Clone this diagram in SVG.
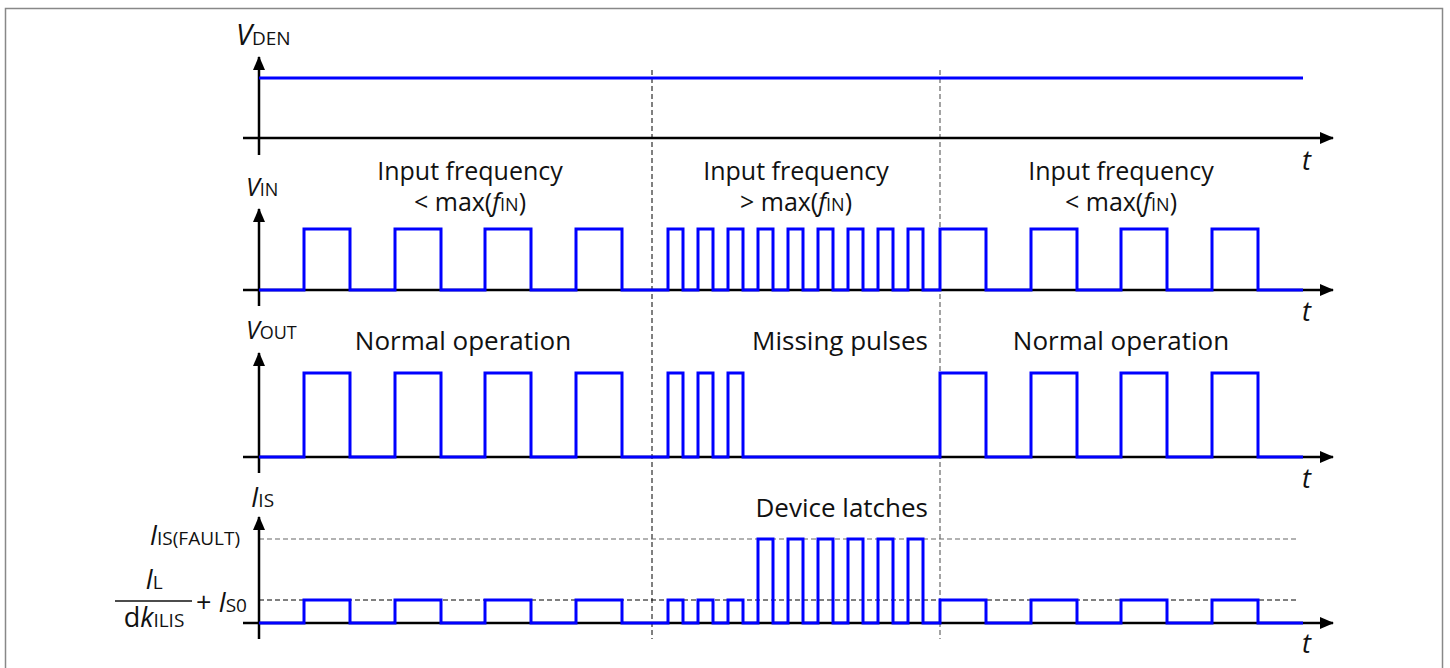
<svg xmlns="http://www.w3.org/2000/svg" width="1450" height="668" viewBox="0 0 1450 668">
<style>
text{font-family:"Open Sans","Noto Sans","DejaVu Sans",sans-serif;fill:#111;}
.lbl{font-size:26px;}
.lbl2{font-size:25px;}
.it{font-style:italic;}
.axis{stroke:#000;stroke-width:2.5;fill:none;}
.sig{stroke:#0000ff;stroke-width:3;fill:none;stroke-linejoin:miter;}
.dash{stroke:#000;stroke-width:1;stroke-dasharray:5,3;fill:none;}
.dashg{stroke:#666;stroke-width:1.2;stroke-dasharray:5,3;fill:none;}
</style>
<defs>
<marker id="arr" viewBox="0 0 14 12" refX="13" refY="6" markerWidth="14" markerHeight="12" markerUnits="userSpaceOnUse" orient="auto">
<path d="M0,0 L14,6 L0,12 Z" fill="#000"/>
</marker>
</defs>
<rect x="5.5" y="8.5" width="1437" height="670" fill="#fff" stroke="#888" stroke-width="1.5"/>

<g id="guides">
<line class="dash" x1="652" y1="70" x2="652" y2="639"/>
<line class="dashg" x1="940" y1="70" x2="940" y2="639"/>
<line class="dashg" x1="259" y1="539" x2="1296" y2="539"/>
<line class="dash" x1="259" y1="600" x2="1296" y2="600"/>
</g>

<g id="axes">
<line class="axis" x1="243" y1="138" x2="1333" y2="138" marker-end="url(#arr)"/>
<line class="axis" x1="259" y1="155" x2="259" y2="57" marker-end="url(#arr)"/>
<line class="axis" x1="243" y1="290" x2="1333" y2="290" marker-end="url(#arr)"/>
<line class="axis" x1="259" y1="306" x2="259" y2="209" marker-end="url(#arr)"/>
<line class="axis" x1="243" y1="457" x2="1333" y2="457" marker-end="url(#arr)"/>
<line class="axis" x1="259" y1="473" x2="259" y2="353" marker-end="url(#arr)"/>
<line class="axis" x1="243" y1="623" x2="1333" y2="623" marker-end="url(#arr)"/>
<line class="axis" x1="259" y1="639" x2="259" y2="517" marker-end="url(#arr)"/>
</g>

<g id="signals">
<path id="vden" class="sig" d="M259,78 H1303"/>
<path id="vin" class="sig" d="M259,290 H304 V229 H350 V290 H395 V229 H441 V290 H485 V229 H531 V290 H576 V229 H622 V290 H668 V229 H683 V290 H698 V229 H713 V290 H728 V229 H743 V290 H758 V229 H773 V290 H788 V229 H803 V290 H818 V229 H833 V290 H848 V229 H863 V290 H878 V229 H893 V290 H908 V229 H923 V290 H940 V229 H986 V290 H1031 V229 H1077 V290 H1121 V229 H1167 V290 H1212 V229 H1258 V290 H1303"/>
<path id="vout" class="sig" d="M259,457 H304 V373 H350 V457 H395 V373 H441 V457 H485 V373 H531 V457 H576 V373 H622 V457 H668 V373 H683 V457 H698 V373 H713 V457 H728 V373 H743 V457 H940 V373 H986 V457 H1031 V373 H1077 V457 H1121 V373 H1167 V457 H1212 V373 H1258 V457 H1303"/>
<path id="is" class="sig" d="M259,623 H304 V600 H350 V623 H395 V600 H441 V623 H485 V600 H531 V623 H576 V600 H622 V623 H668 V600 H683 V623 H698 V600 H713 V623 H728 V600 H743 V623 H758 V539 H773 V623 H788 V539 H803 V623 H818 V539 H833 V623 H848 V539 H863 V623 H878 V539 H893 V623 H908 V539 H923 V623 H940 V600 H986 V623 H1031 V600 H1077 V623 H1121 V600 H1167 V623 H1212 V600 H1258 V623 H1303"/>
</g>

<g id="axis-labels">
<text x="236" y="45"><tspan class="it" font-size="29">V</tspan><tspan font-size="19">DEN</tspan></text>
<text x="246" y="196"><tspan class="it" font-size="25">V</tspan><tspan font-size="18">IN</tspan></text>
<text x="246" y="339"><tspan class="it" font-size="25">V</tspan><tspan font-size="18">OUT</tspan></text>
<text x="251" y="507"><tspan class="it" font-size="27">I</tspan><tspan font-size="19">IS</tspan></text>
<text x="240" y="545" text-anchor="end"><tspan class="it" font-size="27">I</tspan><tspan font-size="19">IS(FAULT)</tspan></text>
<text x="154" y="589" text-anchor="middle"><tspan class="it" font-size="27">I</tspan><tspan font-size="19">L</tspan></text>
<line x1="115" y1="601" x2="192" y2="601" stroke="#111" stroke-width="1.5"/>
<text x="154" y="627" text-anchor="middle"><tspan font-size="27">d</tspan><tspan class="it" font-size="27">k</tspan><tspan font-size="19">ILIS</tspan></text>
<text x="247" y="612" text-anchor="end"><tspan font-size="27">+ </tspan><tspan class="it" font-size="27">I</tspan><tspan font-size="19">S0</tspan></text>
<text class="it" x="1302" y="170" font-size="27">t</text>
<text class="it" x="1302" y="321" font-size="27">t</text>
<text class="it" x="1302" y="488" font-size="27">t</text>
<text class="it" x="1302" y="653" font-size="27">t</text>
</g>

<g id="annotations">
<text class="lbl2" x="470" y="180" text-anchor="middle">Input frequency</text>
<text class="lbl2" x="470" y="211" text-anchor="middle">&lt; max(<tspan class="it">f</tspan><tspan font-size="18">IN</tspan>)</text>
<text class="lbl2" x="796" y="180" text-anchor="middle">Input frequency</text>
<text class="lbl2" x="796" y="211" text-anchor="middle">&gt; max(<tspan class="it">f</tspan><tspan font-size="18">IN</tspan>)</text>
<text class="lbl2" x="1121" y="180" text-anchor="middle">Input frequency</text>
<text class="lbl2" x="1121" y="211" text-anchor="middle">&lt; max(<tspan class="it">f</tspan><tspan font-size="18">IN</tspan>)</text>
<text class="lbl" x="463" y="350" text-anchor="middle">Normal operation</text>
<text class="lbl" x="928" y="350" text-anchor="end">Missing pulses</text>
<text class="lbl" x="1121" y="350" text-anchor="middle">Normal operation</text>
<text class="lbl" x="928" y="517" text-anchor="end">Device latches</text>
</g>
</svg>
